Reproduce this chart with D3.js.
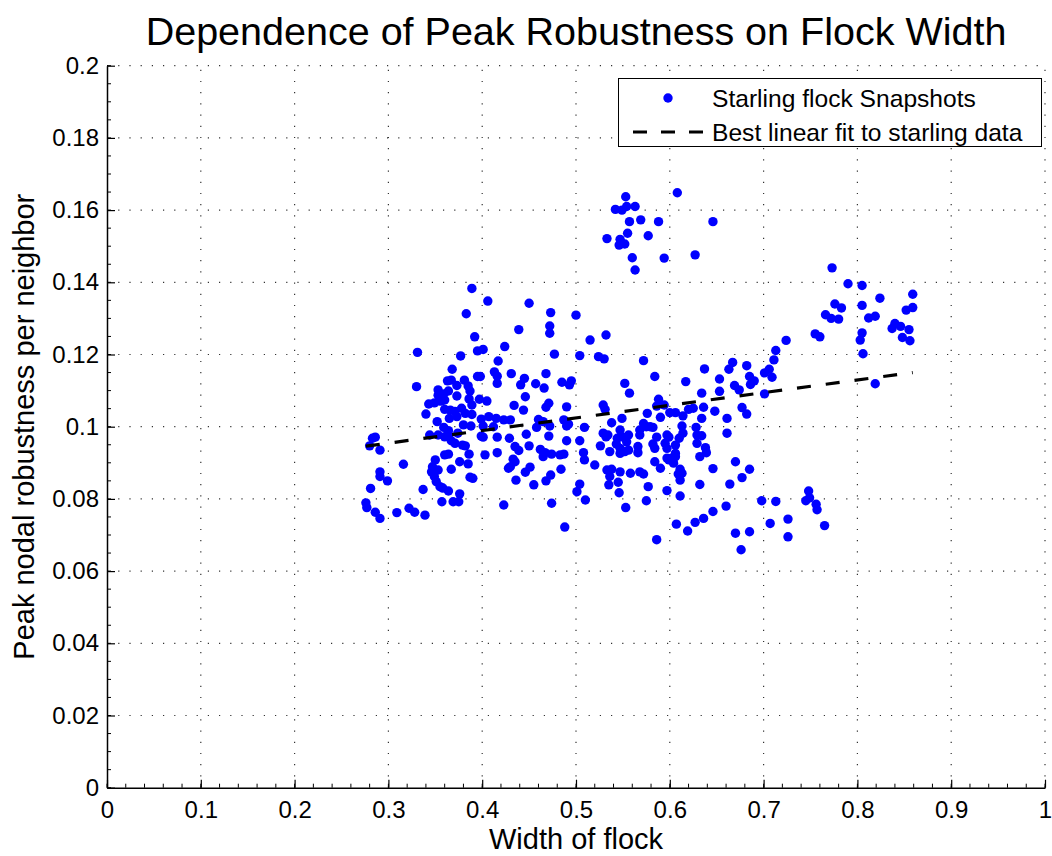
<!DOCTYPE html>
<html>
<head>
<meta charset="utf-8">
<script src="https://cdn.jsdelivr.net/npm/d3@7/dist/d3.min.js"></script>
<style>
  html, body { margin: 0; padding: 0; background: #fff; }
  svg { display: block; font-family: "Liberation Sans", Arial, Helvetica, sans-serif; }
</style>
</head>
<body>
<svg id="chart" width="1052" height="856"></svg>
<script>
// ---- data ----
const titleText = "Dependence of Peak Robustness on Flock Width";
const xLabel = "Width of flock";
const yLabel = "Peak nodal robustness per neighbor";
const legendLabels = ["Starling flock Snapshots", "Best linear fit to starling data"];

const xTicks = [0, 0.1, 0.2, 0.3, 0.4, 0.5, 0.6, 0.7, 0.8, 0.9, 1];
const yTicks = [0, 0.02, 0.04, 0.06, 0.08, 0.1, 0.12, 0.14, 0.16, 0.18, 0.2];

// best linear fit endpoints [width, robustness]
const fitLine = [[0.276, 0.0946], [0.859, 0.1150]];

// starling flock snapshots [width, peak robustness]
const snapshots = [
  // upper cluster
  [0.553,0.1637],[0.542,0.1602],[0.549,0.1600],[0.554,0.1610],[0.563,0.1610],[0.557,0.1568],[0.569,0.1573],
  [0.588,0.1568],[0.646,0.1568],[0.608,0.1648],[0.555,0.1536],[0.533,0.1521],[0.547,0.1519],[0.546,0.1503],
  [0.552,0.1506],[0.577,0.1529],[0.627,0.1476],[0.560,0.1468],[0.594,0.1467],[0.563,0.1434],
  [0.389,0.1383],[0.406,0.1348],[0.450,0.1342],[0.383,0.1313],[0.473,0.1316],[0.500,0.1309],
  // left / middle cluster
  [0.392,0.1249],[0.439,0.1269],[0.472,0.1279],[0.472,0.1259],[0.331,0.1206],[0.377,0.1196],[0.395,0.1210],
  [0.401,0.1214],[0.424,0.1222],[0.477,0.1201],[0.417,0.1182],[0.368,0.1159],[0.413,0.1152],[0.416,0.1140],
  [0.431,0.1147],[0.395,0.1139],[0.398,0.1139],[0.468,0.1147],[0.363,0.1127],[0.367,0.1129],[0.381,0.1129],
  [0.385,0.1113],[0.373,0.1114],[0.416,0.1120],[0.330,0.1111],[0.445,0.1134],[0.441,0.1116],[0.457,0.1119],
  [0.466,0.1107],[0.353,0.1102],[0.364,0.1099],[0.387,0.1099],[0.359,0.1091],[0.373,0.1085],[0.353,0.1087],
  [0.360,0.1074],[0.355,0.1071],[0.386,0.1077],[0.446,0.1083],[0.397,0.1076],[0.405,0.1071],[0.343,0.1063],
  [0.349,0.1066],[0.357,0.1072],[0.389,0.1060],[0.434,0.1059],[0.471,0.1065],[0.468,0.1054],[0.340,0.1035],
  [0.360,0.1048],[0.366,0.1046],[0.371,0.1042],[0.378,0.1051],[0.382,0.1037],[0.389,0.1034],[0.444,0.1046],
  [0.365,0.1023],[0.373,0.1028],[0.352,0.1014],[0.380,0.1005],[0.388,0.1002],[0.399,0.1021],[0.407,0.1028],
  [0.415,0.1023],[0.423,0.1019],[0.430,0.1019],[0.460,0.1020],[0.465,0.1014],[0.458,0.0998],[0.472,0.1002],
  [0.359,0.0998],[0.364,0.0989],[0.401,0.1002],[0.412,0.1000],[0.447,0.0979],[0.471,0.0974],[0.344,0.0977],
  [0.353,0.0977],[0.360,0.0972],[0.364,0.0977],[0.374,0.0982],[0.401,0.0971],[0.399,0.0974],[0.416,0.0971],
  [0.429,0.0968],[0.283,0.0968],[0.286,0.0971],[0.280,0.0947],[0.291,0.0935],[0.367,0.0961],[0.371,0.0954],
  [0.379,0.0949],[0.382,0.0947],[0.435,0.0945],[0.439,0.0934],[0.450,0.0947],[0.462,0.0937],[0.467,0.0928],
  [0.474,0.0924],[0.465,0.0917],[0.386,0.0924],[0.403,0.0922],[0.416,0.0928],[0.360,0.0922],[0.364,0.0924],
  [0.316,0.0896],[0.350,0.0908],[0.376,0.0903],[0.385,0.0897],[0.433,0.0910],[0.435,0.0903],[0.428,0.0885],
  [0.430,0.0889],[0.451,0.0888],[0.347,0.0889],[0.346,0.0875],[0.353,0.0880],[0.367,0.0882],[0.291,0.0875],
  [0.291,0.0862],[0.299,0.0850],[0.349,0.0862],[0.351,0.0848],[0.355,0.0834],[0.358,0.0830],[0.364,0.0822],
  [0.387,0.0860],[0.390,0.0857],[0.436,0.0852],[0.446,0.0874],[0.455,0.0839],[0.468,0.0850],[0.473,0.0866],
  [0.281,0.0829],[0.337,0.0826],[0.376,0.0814],[0.357,0.0792],[0.369,0.0792],[0.375,0.0792],[0.423,0.0783],
  [0.474,0.0788],[0.276,0.0789],
  // central cluster
  [0.515,0.1240],[0.532,0.1254],[0.504,0.1197],[0.524,0.1194],[0.530,0.1188],[0.572,0.1183],[0.584,0.1139],
  [0.617,0.1125],[0.485,0.1123],[0.495,0.1127],[0.493,0.1116],[0.552,0.1120],[0.557,0.1093],[0.490,0.1055],
  [0.529,0.1060],[0.531,0.1048],[0.549,0.1023],[0.576,0.1037],[0.588,0.1076],[0.586,0.1057],[0.590,0.1026],
  [0.594,0.1060],[0.600,0.1039],[0.606,0.1039],[0.614,0.1030],[0.620,0.1048],[0.625,0.1051],[0.487,0.1019],
  [0.492,0.1007],[0.490,0.1002],[0.509,0.0998],[0.490,0.0961],[0.504,0.0961],[0.529,0.0982],[0.532,0.0972],
  [0.538,0.1011],[0.534,0.0977],[0.547,0.0991],[0.549,0.0972],[0.556,0.0977],[0.544,0.0968],[0.554,0.0958],
  [0.568,0.0991],[0.572,0.1009],[0.575,0.1000],[0.579,0.1000],[0.582,0.0998],[0.568,0.0977],[0.526,0.0947],
  [0.543,0.0952],[0.547,0.0940],[0.552,0.0931],[0.556,0.0935],[0.547,0.0926],[0.536,0.0931],[0.566,0.0945],
  [0.566,0.0928],[0.586,0.0971],[0.582,0.0952],[0.584,0.0940],[0.597,0.0977],[0.599,0.0971],[0.595,0.0954],
  [0.597,0.0940],[0.606,0.0949],[0.606,0.0926],[0.610,0.0968],[0.614,0.0982],[0.613,0.1002],[0.628,0.0998],
  [0.629,0.0977],[0.629,0.0954],[0.483,0.0922],[0.487,0.0924],[0.508,0.0928],[0.509,0.0908],[0.520,0.0894],
  [0.484,0.0882],[0.533,0.0880],[0.538,0.0882],[0.536,0.0862],[0.547,0.0875],[0.558,0.0871],[0.568,0.0875],
  [0.572,0.0869],[0.584,0.0903],[0.590,0.0885],[0.597,0.0913],[0.602,0.0913],[0.606,0.0917],[0.599,0.0908],
  [0.604,0.0899],[0.611,0.0882],[0.609,0.0869],[0.613,0.0871],[0.611,0.0852],[0.504,0.0841],[0.501,0.0820],
  [0.510,0.0797],[0.545,0.0846],[0.546,0.0817],[0.535,0.0839],[0.577,0.0834],[0.597,0.0823],[0.611,0.0808],
  [0.575,0.0795],
  // right cluster
  [0.773,0.1440],[0.790,0.1396],[0.805,0.1391],[0.824,0.1356],[0.805,0.1336],[0.776,0.1340],[0.783,0.1329],
  [0.766,0.1310],[0.772,0.1300],[0.780,0.1298],[0.812,0.1301],[0.819,0.1306],[0.755,0.1257],[0.760,0.1249],
  [0.805,0.1260],[0.803,0.1240],[0.806,0.1202],[0.724,0.1239],[0.713,0.1211],[0.711,0.1185],[0.706,0.1159],
  [0.701,0.1149],[0.709,0.1137],[0.819,0.1119],[0.701,0.1091],[0.682,0.1169],[0.667,0.1178],[0.663,0.1159],
  [0.637,0.1160],[0.653,0.1132],[0.685,0.1139],[0.690,0.1127],[0.686,0.1117],[0.669,0.1114],[0.674,0.1102],
  [0.653,0.1098],[0.634,0.1093],[0.636,0.1054],[0.677,0.1053],[0.682,0.1035],[0.648,0.1043],[0.661,0.1023],
  [0.634,0.1023],[0.661,0.0982],[0.634,0.0975],[0.638,0.0942],[0.639,0.0928],[0.632,0.0917],[0.670,0.0903],
  [0.646,0.0884],[0.685,0.0882],[0.677,0.0859],[0.664,0.0841],[0.632,0.0840],[0.748,0.0822],[0.749,0.0803],
  [0.745,0.0795],[0.698,0.0795],[0.713,0.0793],[0.756,0.0785],[0.757,0.0770],[0.765,0.0726],
  [0.859,0.1367],[0.859,0.1330],[0.852,0.1323],[0.840,0.1286],[0.846,0.1278],[0.837,0.1272],[0.855,0.1269],
  [0.848,0.1247],[0.856,0.1238],
  // lower band
  [0.277,0.0776],[0.286,0.0763],[0.291,0.0746],[0.309,0.0762],[0.322,0.0774],[0.328,0.0763],[0.339,0.0755],
  [0.488,0.0722],[0.553,0.0776],[0.586,0.0687],[0.607,0.0730],[0.619,0.0711],[0.627,0.0735],[0.636,0.0746],
  [0.646,0.0765],[0.660,0.0780],[0.670,0.0705],[0.676,0.0659],[0.685,0.0709],[0.707,0.0732],[0.726,0.0744],
  [0.726,0.0695]
];

// ---- drawing ----
const svg = d3.select("#chart");
const W = 1052, H = 856;
const plotLeft = 107, plotRight = 1045, plotTop = 65.7, plotBottom = 787.7;
const x = d3.scaleLinear().domain([0, 1]).range([plotLeft, plotRight]);
const y = d3.scaleLinear().domain([0, 0.2]).range([plotBottom, plotTop]);
const FONT = '"Liberation Sans", Arial, Helvetica, sans-serif';
const dotColor = "#0000ff";

svg.append("rect").attr("width", W).attr("height", H).attr("fill", "#fff");

// grid (dotted)
const grid = svg.append("g").attr("stroke", "#333").attr("stroke-width", 1.2)
  .attr("stroke-dasharray", "1.2,10").attr("fill", "none");
grid.selectAll("line.gx").data(xTicks.filter(d => d > 0)).join("line").attr("class", "gx")
  .attr("x1", d => x(d)).attr("x2", d => x(d)).attr("y1", plotBottom).attr("y2", plotTop);
grid.selectAll("line.gy").data(yTicks.filter(d => d > 0)).join("line").attr("class", "gy")
  .attr("y1", d => y(d)).attr("y2", d => y(d)).attr("x1", plotLeft).attr("x2", plotRight);

const fmt = d => String(+d.toFixed(2));

// x axis
const gx = svg.append("g").attr("transform", `translate(0,${plotBottom})`)
  .call(d3.axisBottom(x).tickValues(xTicks).tickFormat(fmt).tickSize(-8).tickSizeOuter(0).tickPadding(13));
// y axis
const gy = svg.append("g").attr("transform", `translate(${plotLeft},0)`)
  .call(d3.axisLeft(y).tickValues(yTicks).tickFormat(fmt).tickSize(-8).tickSizeOuter(0).tickPadding(8));
[gx, gy].forEach(g => {
  g.selectAll("text").attr("font-size", 24).attr("font-family", FONT).attr("fill", "#000");
  g.selectAll("line").attr("stroke", "#000").attr("stroke-width", 1.2);
  g.select(".domain").attr("stroke", "#000").attr("stroke-width", 1.5);
});
// minor ticks
const minorX = d3.range(0, 1.0001, 0.02);
const minorY = d3.range(0, 0.2001, 0.005);
svg.append("g").selectAll("line").data(minorX).join("line")
  .attr("x1", d => x(d)).attr("x2", d => x(d)).attr("y1", plotBottom).attr("y2", plotBottom - 4)
  .attr("stroke", "#000").attr("stroke-width", 1);
svg.append("g").selectAll("line").data(minorY).join("line")
  .attr("y1", d => y(d)).attr("y2", d => y(d)).attr("x1", plotLeft).attr("x2", plotLeft + 4)
  .attr("stroke", "#000").attr("stroke-width", 1);

// points
svg.append("g").selectAll("circle").data(snapshots).join("circle")
  .attr("cx", d => x(d[0])).attr("cy", d => y(d[1])).attr("r", 4.7)
  .attr("fill", dotColor);

// fit line
svg.append("path").datum(fitLine)
  .attr("d", d3.line().x(d => x(d[0])).y(d => y(d[1])))
  .attr("fill", "none").attr("stroke", "#000").attr("stroke-width", 3.2)
  .attr("stroke-dasharray", "14,15");

// title & labels
svg.append("text").attr("x", (plotLeft + plotRight) / 2).attr("y", 45)
  .attr("text-anchor", "middle").attr("font-size", 39.5).attr("font-family", FONT).text(titleText);
svg.append("text").attr("x", (plotLeft + plotRight) / 2).attr("y", 849)
  .attr("text-anchor", "middle").attr("font-size", 29).attr("font-family", FONT).text(xLabel);
svg.append("text").attr("transform", `translate(34,${(plotTop + plotBottom) / 2}) rotate(-90)`)
  .attr("text-anchor", "middle").attr("font-size", 29).attr("font-family", FONT).text(yLabel);

// legend
const lg = svg.append("g");
lg.append("rect").attr("x", 618.5).attr("y", 78.5).attr("width", 423).attr("height", 68)
  .attr("fill", "#fff").attr("stroke", "#000").attr("stroke-width", 1);
lg.append("circle").attr("cx", 668).attr("cy", 98).attr("r", 4.7).attr("fill", dotColor);
lg.append("line").attr("x1", 633).attr("x2", 703).attr("y1", 132).attr("y2", 132)
  .attr("stroke", "#000").attr("stroke-width", 3.2).attr("stroke-dasharray", "14,14");
lg.selectAll("text.l").data(legendLabels).join("text").attr("class", "l")
  .attr("x", 712).attr("y", (d, i) => 106.5 + i * 34)
  .attr("font-size", 24.6).attr("font-family", FONT).text(d => d);
</script>
</body>
</html>
